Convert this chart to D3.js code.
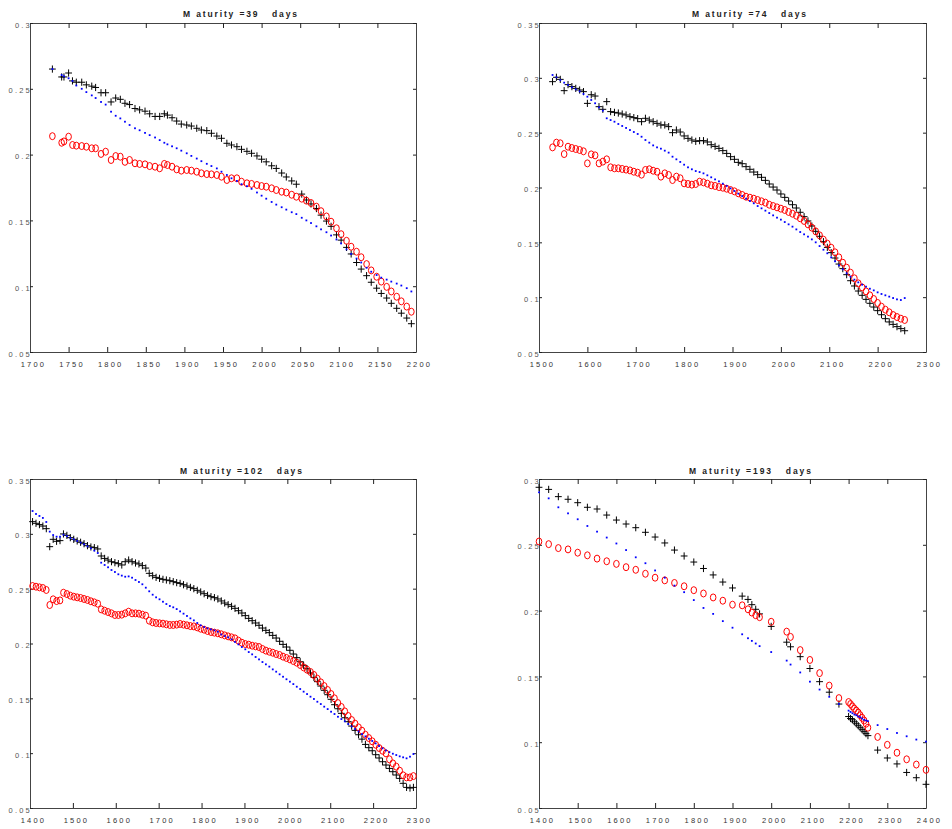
<!DOCTYPE html>
<html>
<head>
<meta charset="utf-8">
<script src="https://cdn.jsdelivr.net/npm/d3@7"></script>
<style>
  body { margin: 0; background: #fff; }
  svg { display: block; }
  .tick text { font-family: "Liberation Sans", Arial, sans-serif; }
</style>
</head>
<body>
<svg width="952" height="829"></svg>
<script>
// smile plots, 4 maturities
var titles = ['M aturity =39   days', 'M aturity =74   days', 'M aturity =102   days', 'M aturity =193   days'];

var xTicks1 = [1700, 1750, 1800, 1850, 1900, 1950, 2000, 2050, 2100, 2150, 2200];
var xTicks2 = [1500, 1600, 1700, 1800, 1900, 2000, 2100, 2200, 2300];
var xTicks3 = [1400, 1500, 1600, 1700, 1800, 1900, 2000, 2100, 2200, 2300];
var xTicks4 = [1400, 1500, 1600, 1700, 1800, 1900, 2000, 2100, 2200, 2300, 2400];
var yTicks1 = [0.05, 0.1, 0.15, 0.2, 0.25, 0.3];
var yTicks2 = [0.05, 0.1, 0.15, 0.2, 0.25, 0.3, 0.35];

var strikes1 = [1729,1741,1744,1750,1755,1760,1767,1773,1780,1785,
  1792,1798,1805,1811,1817,1823,1829,1836,1842,1849,
  1855,1862,1868,1874,1878,1884,1890,1896,1903,1909,
  1916,1922,1929,1935,1942,1948,1955,1961,1968,1974,
  1981,1987,1994,2000,2006,2013,2019,2026,2032,2039,
  2045,2052,2058,2064,2071,2077,2084,2090,2097,2103,
  2110,2116,2123,2129,2136,2142,2149,2155,2162,2168,
  2175,2181,2188,2194];
var black1 = [.265,.259,.259,.262,.256,.255,.255,.253,.252,.251,
  .247,.247,.240,.243,.242,.239,.238,.235,.234,.233,
  .231,.229,.229,.231,.230,.228,.2255,.2232,.2225,.2217,
  .220,.2187,.2182,.2162,.2141,.2124,.2086,.2073,.206,.204,
  .2025,.201,.199,.1965,.1945,.1915,.1895,.186,.183,.180,
  .1775,.170,.1655,.1625,.159,.154,.1495,.1455,.139,.135,
  .1295,.1245,.118,.113,.108,.103,.0985,.0945,.091,.087,
  .0832,.0795,.0758,.0715];
var red1 = [.214,.209,.210,.2136,.2073,.2068,.2065,.206,.2048,.2048,
  .2005,.2022,.1959,.1989,.1984,.1945,.1959,.1934,.1929,.1926,
  .1913,.1908,.1896,.1929,.1921,.1908,.1888,.1878,.1883,.1878,
  .187,.1858,.1852,.185,.1845,.1832,.1807,.182,.182,.1794,
  .1782,.1777,.1769,.1761,.1756,.1744,.1731,.1718,.1712,.1695,
  .168,.1665,.165,.1632,.1604,.157,.153,.149,.144,.1395,
  .1345,.130,.1262,.122,.1168,.112,.1072,.1035,.0995,.096,
  .092,.0885,.0845,.0806];
var blue1 = [.265,.2605,.2595,.258,.256,.2525,.250,.2475,.245,.243,
  .240,.238,.2326,.2295,.2275,.225,.2225,.220,.2185,.2165,
  .2148,.213,.211,.209,.2078,.2063,.2048,.203,.201,.199,
  .197,.195,.193,.1913,.1895,.187,.1845,.182,.180,.1775,
  .176,.174,.1712,.1688,.1665,.164,.162,.160,.1582,.1562,
  .1548,.152,.150,.148,.1455,.1432,.141,.1385,.1355,.1325,
  .128,.1245,.121,.118,.114,.111,.1085,.1065,.105,.1035,
  .102,.1005,.0985,.096];

var strikes2 = [1528,1536,1544,1552,1560,1568,1576,1584,1592,1600,
  1608,1616,1624,1632,1640,1648,1656,1664,1672,1680,
  1688,1696,1704,1712,1720,1728,1736,1744,1752,1760,
  1768,1776,1784,1792,1800,1808,1816,1824,1832,1840,
  1848,1856,1864,1872,1880,1888,1896,1904,1912,1920,
  1928,1936,1944,1952,1960,1968,1976,1984,1992,2000,
  2008,2016,2024,2032,2040,2048,2056,2064,2072,2080,
  2088,2096,2104,2112,2120,2128,2136,2144,2152,2160,
  2168,2176,2184,2192,2200,2208,2216,2224,2232,2240,
  2248,2256];
var black2 = [.2965,.3005,.2986,.2883,.2938,.292,.2904,.2889,.2874,.2767,
  .2846,.2834,.2737,.2713,.2783,.2692,.2685,.2679,.267,.2661,
  .2646,.2637,.2628,.260,.2631,.2615,.260,.2585,.257,.257,
  .2555,.250,.2524,.2506,.247,.2448,.2433,.2421,.2427,.2427,
  .2415,.239,.2375,.2357,.2336,.2311,.2281,.2257,.2229,.2217,
  .219,.2166,.2141,.2117,.2093,.2065,.2032,.2004,.1977,.1941,
  .191,.1877,.1843,.1813,.1774,.1734,.1695,.1649,.160,.1555,
  .1506,.1454,.1406,.1357,.1302,.126,.1205,.115,.1102,.1056,
  .1017,.098,.0944,.091,.0877,.084,.0804,.0774,.0752,.0731,
  .0713,.0694];
var red2 = [.2366,.2409,.2403,.2305,.2372,.236,.2351,.2342,.233,.222,
  .2302,.2293,.222,.2236,.2257,.2184,.2175,.2175,.2169,.2163,
  .2156,.2144,.2135,.2117,.216,.2166,.2153,.2144,.2099,.2129,
  .2114,.2068,.2099,.2084,.2038,.2032,.2026,.2032,.2053,.2047,
  .2035,.202,.2014,.2004,.1998,.1989,.1977,.1965,.1947,.1932,
  .1916,.1907,.1898,.1886,.1874,.1862,.1843,.1831,.1819,.1807,
  .1795,.1777,.1761,.1743,.1719,.1695,.1664,.1634,.160,.1564,
  .1524,.1488,.1451,.1409,.1363,.1314,.1269,.1223,.1172,.1126,
  .1089,.1053,.1017,.0983,.0947,.0913,.0886,.0862,.0837,.0819,
  .0804,.0792];
var blue2 = [.3026,.3005,.298,.2956,.2935,.2914,.2895,.2877,.2853,.2828,
  .2798,.2768,.2731,.2701,.2631,.2615,.260,.2579,.2561,.2543,
  .2524,.2506,.2488,.2463,.2433,.2409,.2384,.2366,.2354,.2336,
  .2318,.2281,.2257,.2233,.2208,.2184,.2166,.215,.2141,.2129,
  .2111,.2093,.2074,.2056,.2035,.2014,.1992,.1968,.1944,.1922,
  .1898,.1877,.1856,.1831,.181,.1789,.1767,.1746,.1725,.1707,
  .1685,.1664,.1643,.1618,.1594,.1573,.1552,.1527,.150,.1466,
  .1433,.140,.1363,.1327,.129,.1254,.1217,.1187,.116,.1135,
  .1114,.1096,.1077,.1062,.1044,.1029,.1017,.1005,.0992,.098,
  .0974,.0992];

var strikes3 = [1406,1414,1422,1430,1438,1446,1454,1462,1470,1478,
  1486,1494,1502,1510,1518,1526,1534,1542,1550,1558,
  1566,1574,1582,1590,1598,1606,1614,1622,1630,1638,
  1646,1654,1662,1670,1678,1686,1694,1702,1710,1718,
  1726,1734,1742,1750,1758,1766,1774,1782,1790,1798,
  1806,1814,1822,1830,1838,1846,1854,1862,1870,1878,
  1886,1894,1902,1910,1918,1926,1934,1942,1950,1958,
  1966,1974,1982,1990,1998,2006,2014,2022,2030,2038,
  2046,2054,2062,2070,2078,2086,2094,2102,2110,2118,
  2126,2134,2142,2150,2158,2166,2174,2182,2190,2198,
  2206,2214,2222,2230,2238,2246,2254,2262,2270,2278,
  2286,2294];
var black3 = [.3111,.3096,.3084,.3071,.3047,.2883,.295,.2932,.2938,.2999,
  .2986,.2965,.295,.2935,.2923,.291,.2892,.288,.2874,.2862,
  .2798,.2776,.2761,.2746,.2737,.2728,.2716,.2746,.2761,.2746,
  .2734,.2725,.271,.2688,.264,.2618,.2603,.2594,.2585,.2579,
  .2573,.2564,.2555,.2548,.2536,.2524,.2512,.250,.2485,.247,
  .2454,.2439,.2427,.2418,.2406,.2388,.2369,.2354,.2339,.2321,
  .2299,.2278,.2254,.2229,.2208,.2187,.2166,.2141,.212,.2099,
  .2074,.205,.202,.1992,.1968,.1938,.1904,.1871,.1834,.1801,
  .177,.1731,.1691,.1652,.1612,.1573,.1533,.1491,.1442,.1405,
  .1363,.1323,.1287,.1247,.1208,.1168,.1128,.108,.105,.1022,
  .0986,.0956,.0922,.0892,.0861,.0831,.0801,.077,.0725,.0688,
  .0682,.0688];
var red3 = [.2524,.2518,.2512,.2506,.2488,.2351,.2403,.2387,.2393,.2463,
  .2451,.2436,.2427,.2421,.2415,.2406,.2397,.2385,.2375,.2363,
  .2311,.2299,.2287,.2275,.226,.226,.2263,.2275,.229,.2275,
  .2275,.2272,.2263,.2254,.2208,.2193,.2187,.2184,.2181,.2175,
  .2169,.2169,.2172,.2178,.2172,.2166,.2159,.2156,.2147,.2135,
  .2126,.2114,.2105,.2099,.2093,.2084,.2074,.2065,.2056,.2047,
  .2026,.2007,.1995,.1989,.198,.1974,.1968,.195,.1935,.1925,
  .1916,.1904,.1895,.188,.1868,.1855,.184,.1825,.1804,.1782,
  .1761,.174,.1713,.1679,.1646,.1612,.1576,.1539,.15,.1457,
  .1421,.1381,.1339,.1302,.1269,.1235,.1205,.1168,.1138,.1108,
  .1077,.1047,.1022,.0998,.0944,.0907,.0877,.084,.0798,.0779,
  .0779,.0791];
var blue3 = [.3208,.3181,.3163,.3145,.3108,.302,.2989,.2974,.2974,.2992,
  .298,.2962,.295,.2935,.292,.2905,.2886,.2868,.2847,.2825,
  .2737,.2716,.2695,.267,.2652,.2631,.2619,.2609,.2612,.260,
  .2579,.2561,.254,.2509,.2476,.2445,.2421,.2403,.2381,.236,
  .2342,.233,.2314,.2293,.2272,.2251,.2229,.2211,.2187,.2166,
  .215,.2138,.2129,.212,.2108,.2083,.2068,.2056,.2038,.2014,
  .1992,.1968,.1947,.1922,.1901,.1877,.1855,.1831,.181,.1789,
  .1764,.1743,.1719,.1697,.1674,.1652,.163,.1606,.1585,.1561,
  .1539,.1515,.1494,.1469,.1448,.1424,.1402,.1378,.1357,.1332,
  .1311,.129,.1266,.1244,.122,.1199,.1174,.1153,.1132,.1111,
  .1089,.1065,.1044,.1025,.101,.0995,.0983,.0971,.0962,.0953,
  .0968,.0992];

var strikes4 = [1400,1425,1450,1475,1500,1525,1550,1575,1600,1625,1650,1675,1700,1725,1750,1775,1800,1825,1850,1875,1900,1925,
  1940,1950,1960,1970,
  2000,2040,2050,2075,2100,2125,2150,2175,
  2200,2205,2210,2215,2220,2225,2230,2235,2240,2245,2250,
  2275,2300,2325,2350,2375,2400];
var black4 = [.2937,.2921,.2866,.2846,.282,.2785,.2772,.2726,.2688,.2658,.263,.2595,.2559,.2514,.246,.2415,.2369,.232,.2271,.2217,.2172,.211,
  .2085,.2045,.201,.1975,
  .188,.176,.1725,.165,.156,.146,.138,.129,
  .1195,.118,.117,.1155,.114,.1125,.111,.1095,.108,.1065,.105,
  .094,.088,.0835,.077,.073,.068];
var red4 = [.2525,.2505,.2475,.2465,.244,.242,.2395,.2375,.2355,.233,.231,.228,.225,.223,.221,.2185,.2155,.213,.21,.2075,.2045,.204,
  .201,.1985,.1965,.195,
  .1915,.184,.18,.17,.1625,.1525,.143,.1335,
  .1305,.129,.1272,.1255,.124,.1225,.1205,.1185,.1165,.114,.111,
  .104,.098,.092,.087,.083,.079];
var blue4 = [.2899,.2853,.2785,.2739,.2694,.2643,.26,.2555,.251,.246,.2405,.236,.2305,.225,.219,.214,.208,.202,.1975,.192,.187,.182,
  .179,.177,.175,.173,
  .1685,.162,.159,.153,.146,.14,.1345,.129,
  .124,.123,.122,.121,.1205,.1195,.119,.118,.117,.1165,.116,
  .113,.11,.107,.1045,.102,.1005];

(function () {
  'use strict';
  var svg = d3.select('svg');
  var font = '"Liberation Sans", Arial, sans-serif';

  var panels = [
    {box: [30, 416, 23, 352], xd: [1700, 2200], yd: [0.05, 0.3], xt: xTicks1, yt: yTicks1,
     k: strikes1, b: black1, r: red1, u: blue1, title: titles[0], tx: 183, ty: 16.5, tw: 114},
    {box: [539, 926, 23, 352], xd: [1500, 2300], yd: [0.05, 0.35], xt: xTicks2, yt: yTicks2,
     k: strikes2, b: black2, r: red2, u: blue2, title: titles[1], tx: 692, ty: 16.5, tw: 114},
    {box: [30, 416, 479, 808], xd: [1400, 2300], yd: [0.05, 0.35], xt: xTicks3, yt: yTicks2,
     k: strikes3, b: black3, r: red3, u: blue3, title: titles[2], tx: 180, ty: 473.5, tw: 122},
    {box: [539, 926, 479, 808], xd: [1400, 2400], yd: [0.05, 0.3], xt: xTicks4, yt: yTicks1,
     k: strikes4, b: black4, r: red4, u: blue4, title: titles[3], tx: 689, ty: 473.5, tw: 122}
  ];

  function drawPanel (p) {
    var x = d3.scaleLinear().domain(p.xd).range([p.box[0], p.box[1]]);
    var y = d3.scaleLinear().domain(p.yd).range([p.box[3], p.box[2]]);
    var g = svg.append('g');

    // box + inward ticks
    var bottom = g.append('g').attr('transform', 'translate(0,' + p.box[3] + ')')
      .call(d3.axisBottom(x).tickValues(p.xt).tickSizeInner(-5).tickSizeOuter(0).tickPadding(10).tickFormat(d3.format('d')));
    g.append('g').attr('transform', 'translate(0,' + p.box[2] + ')')
      .call(d3.axisTop(x).tickValues(p.xt).tickSizeInner(-5).tickSizeOuter(0).tickFormat(''));
    var left = g.append('g').attr('transform', 'translate(' + p.box[0] + ',0)')
      .call(d3.axisLeft(y).tickValues(p.yt).tickSizeInner(-3).tickSizeOuter(0).tickFormat(function (d) { return String(+d.toFixed(2)); }));
    g.append('g').attr('transform', 'translate(' + p.box[1] + ',0)')
      .call(d3.axisRight(y).tickValues(p.yt).tickSizeInner(-3).tickSizeOuter(0).tickFormat(''));

    g.selectAll('.domain').attr('stroke', '#444').attr('stroke-width', 1);
    g.selectAll('.tick line').attr('stroke', '#222');

    bottom.selectAll('text')
      .attr('font-size', 7.5).attr('fill', '#333')
      .style('letter-spacing', '2.2px').attr('dx', '3px');
    left.selectAll('text')
      .attr('x', 2).attr('dy', '0.55em')
      .attr('font-size', 7.5).attr('fill', '#555')
      .style('letter-spacing', '2.2px');

    g.append('text')
      .attr('x', p.tx).attr('y', p.ty)
      .attr('font-family', font).attr('font-size', 8.5).attr('font-weight', 'bold')
      .attr('fill', '#222')
      .attr('textLength', p.tw).attr('lengthAdjust', 'spacing')
      .style('white-space', 'pre')
      .text(p.title);

    var pts = p.k.map(function (k, i) { return {k: k, b: p.b[i], r: p.r[i], u: p.u[i]}; });

    g.append('g').selectAll('path').data(pts).enter().append('path')
      .attr('transform', function (d) { return 'translate(' + x(d.k) + ',' + y(d.b) + ')'; })
      .attr('d', 'M-3.4,0H3.4M0,-3.6V3.6')
      .attr('stroke', '#000').attr('stroke-width', 1).attr('fill', 'none');

    g.append('g').selectAll('ellipse').data(pts).enter().append('ellipse')
      .attr('cx', function (d) { return x(d.k); })
      .attr('cy', function (d) { return y(d.r); })
      .attr('rx', 2.8).attr('ry', 3.5)
      .attr('stroke', '#f00').attr('stroke-width', 1).attr('fill', 'none');

    g.append('g').selectAll('rect').data(pts).enter().append('rect')
      .attr('x', function (d) { return x(d.k) - 0.9; })
      .attr('y', function (d) { return y(d.u) - 0.9; })
      .attr('width', 1.8).attr('height', 1.8)
      .attr('fill', '#00f');
  }

  panels.forEach(drawPanel);
})();
</script>
</body>
</html>
